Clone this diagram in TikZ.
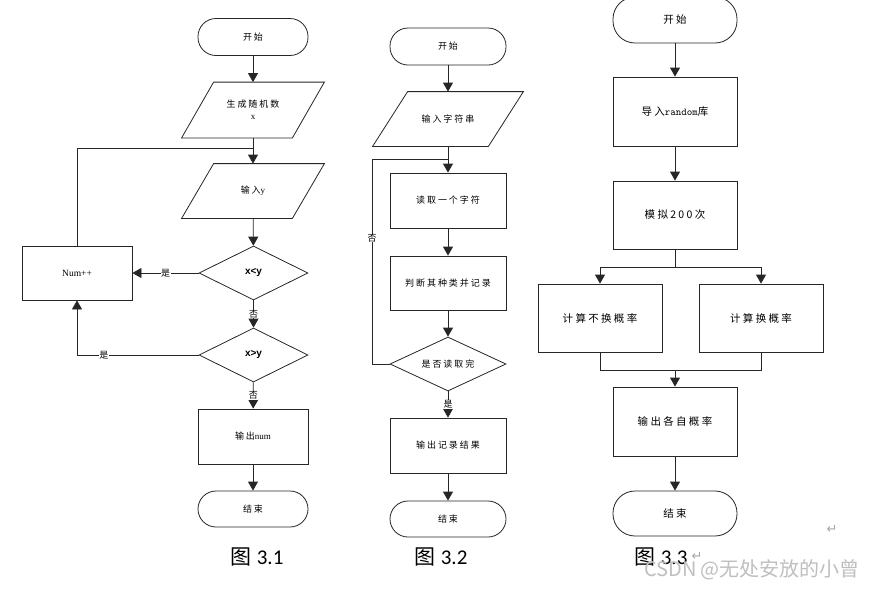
\documentclass[tikz,border=0pt]{standalone}
\usepackage{fontspec}
\setmainfont{Liberation Serif}
\newfontfamily\cjk{Noto Sans CJK SC}
\newfontfamily\cjkw{Noto Sans CJK SC}[LetterSpace=22]
\newfontfamily\lat{Liberation Sans}
\newfontfamily\calfnt{Carlito}
\newfontfamily\dvs{DejaVu Sans}
\usetikzlibrary{shapes.geometric,arrows.meta}
\newcommand\paradraw[2]{\draw[ln] ([xshift=-#2]#1.south west) -- ([xshift=-#2]#1.south east) -- ([xshift=#2]#1.north east) -- ([xshift=#2]#1.north west) -- cycle;}
\begin{document}
\begin{tikzpicture}[x=1pt,y=-1pt,
  base/.style={draw=black!85, line width=0.8pt, inner sep=1pt, align=center,
     font=\cjkw\fontsize{9}{12}\selectfont},
  term/.style={base, rectangle, rounded corners=18pt, minimum width=110pt, minimum height=37pt},
  proc/.style={base, rectangle, minimum width=110pt, minimum height=55pt},
  io/.style={base, draw=none, rectangle, minimum width=110pt, minimum height=55pt},
  dec/.style={base, diamond, aspect=2, minimum width=109pt, minimum height=54pt},
  big/.style={font=\cjkw\fontsize{10.5}{13}\selectfont, minimum width=124pt},
  arr/.style={-{Triangle[width=10pt,length=9pt]}, line width=0.8pt, draw=black!85},
  ln/.style={line width=0.8pt, draw=black!85},
  lbl/.style={fill=white, inner sep=0.5pt, font=\cjk\fontsize{9}{11}\selectfont},
  captxt/.style={inner sep=0pt, font=\fontsize{21}{24}\selectfont}
]
\useasboundingbox[fill=white] (0,0) rectangle (872,590);

% ---------- Chart 3.1 ----------
\node[term] (s1) at (253,37) {开始};
\node[io] (p1) at (253,110) {生成随机数\\{\rmfamily x}};
\paradraw{p1}{16pt}
\node[io, minimum height=54pt] (p2) at (253,191) {输入{\rmfamily y}};
\paradraw{p2}{16pt}
\node[dec, font=\lat\bfseries\fontsize{10}{12}\selectfont] (d1) at (253.5,273) {x<y};
\node[proc, minimum height=54pt, font=\rmfamily\fontsize{9.5}{11}\selectfont] (n1) at (77,273) {Num++};
\node[dec, font=\lat\bfseries\fontsize{10}{12}\selectfont] (d2) at (253.5,355) {x>y};
\node[proc] (o1) at (253,436.5) {输出{\rmfamily num}};
\node[term, minimum height=36pt] (e1) at (253,509) {结束};
\coordinate (j1) at (253,148);

\draw[arr] (s1) -- (p1);
\draw[arr] (p1) -- (p2);
\draw[ln] (n1.north) |- (j1);
\draw[arr] (p2) -- (d1);
\draw[arr] (d1) -- (n1) node[lbl, midway] {是};
\draw[arr] (d1) -- (d2) node[lbl, midway] {否};
\draw[arr] (d2.west) -| (n1.south) node[lbl, pos=0.39] {是};
\draw[arr] (d2) -- (o1) node[lbl, midway] {否};
\draw[arr] (o1) -- (e1);

% ---------- Chart 3.2 ----------
\node[term, minimum width=116pt] (s2) at (448,46.5) {开始};
\node[io, minimum width=115pt, minimum height=54pt] (p3) at (448,119) {输入字符串};
\paradraw{p3}{17.5pt}
\node[proc, minimum width=116pt] (r1) at (448,200.5) {读取一个字符};
\node[proc, minimum width=116pt, minimum height=54pt] (r2) at (448,283) {判断其种类并记录};
\node[dec, minimum width=116pt] (d3) at (448,364) {是否读取完};
\node[proc, minimum width=116pt] (r3) at (448,445.5) {输出记录结果};
\node[term, minimum width=116pt, minimum height=36pt] (e2) at (448,519) {结束};
\coordinate (j2) at (448,159);
\coordinate (c2) at (372,364);

\draw[arr] (s2) -- (p3);
\draw[arr] (p3) -- (r1);
\draw[ln] (d3.west) -- (c2) |- (j2);
\node[lbl] at (372,238) {否};
\draw[arr] (r1) -- (r2);
\draw[arr] (r2) -- (d3);
\draw[arr] (d3) -- (r3) node[lbl, midway] {是};
\draw[arr] (r3) -- (e2);

% ---------- Chart 3.3 ----------
\node[term, big, minimum height=46pt, rounded corners=22pt] (s3) at (675,20) {开始};
\node[proc, big, minimum height=69pt] (r4) at (675,111.5) {导入{\ttfamily random}库};
\node[proc, big, minimum height=68pt] (r5) at (675,215) {模拟200次};
\node[proc, big, minimum height=68pt] (r6) at (600,318) {计算不换概率};
\node[proc, big, minimum height=68pt] (r7) at (761,318) {计算换概率};
\node[proc, big, minimum height=69pt] (r8) at (675,421.5) {输出各自概率};
\node[term, big, minimum height=45pt, rounded corners=22pt] (e3) at (675,513.5) {结束};
\coordinate (j3) at (675,267);
\coordinate (j4) at (675,370);

\draw[arr] (s3) -- (r4);
\draw[arr] (r4) -- (r5);
\draw[ln] (r5) -- (j3);
\draw[arr] (j3) -| (r6);
\draw[arr] (j3) -| (r7);
\draw[ln] (r6) |- (j4);
\draw[ln] (r7) |- (j4);
\draw[arr] (j4) -- (r8);
\draw[arr] (r8) -- (e3);

% ---------- captions ----------
\node[captxt] (t1) at (257,557) {{\cjk 图} {\calfnt 3.1}};
\node[captxt] (t2) at (441,557) {{\cjk 图} {\calfnt 3.2}};
\node[captxt] (t3) at (661,557) {{\cjk 图} {\calfnt 3.3}};
\node[inner sep=0pt, text=gray!70, font=\dvs\fontsize{13}{14}\selectfont] (rt1) at (697,556) {↵};
\node[inner sep=0pt, text=gray!70, font=\dvs\fontsize{13}{14}\selectfont] (rt2) at (832,529) {↵};
\node[inner sep=0pt, text=gray!50, font=\cjk\fontsize{20}{22}\selectfont] (wm) at (752,570) {CSDN @无处安放的小曾};
\end{tikzpicture}
\end{document}
